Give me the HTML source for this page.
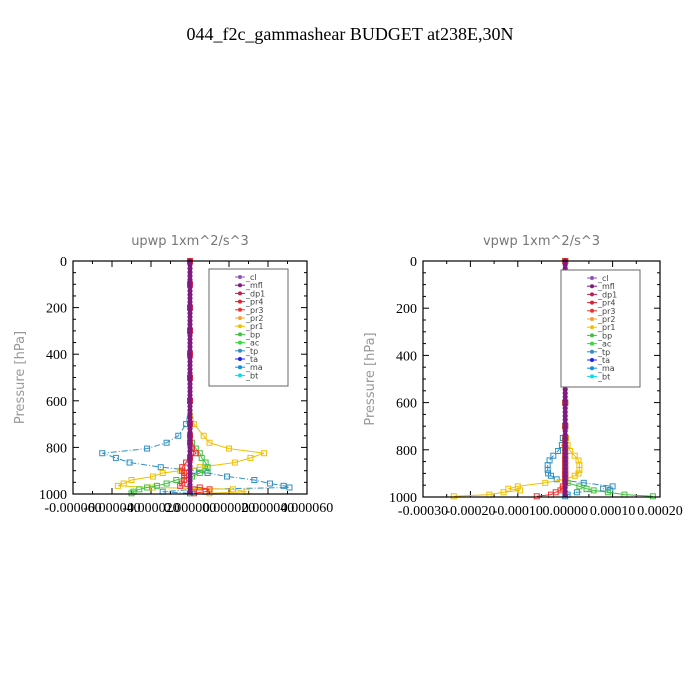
<!DOCTYPE html>
<html><head><meta charset="utf-8"><style>
body{margin:0;background:#fff}
svg{display:block}
text{font-family:"Liberation Serif",serif}
.sans{font-family:"DejaVu Sans","Liberation Sans",sans-serif}
</style></head><body>
<svg id="chart" width="700" height="700" viewBox="0 0 700 700" xmlns="http://www.w3.org/2000/svg">
<rect width="700" height="700" fill="#fff"/>
<text x="350" y="40" font-size="18" text-anchor="middle">044_f2c_gammashear  BUDGET at238E,30N</text>
<g id="p1"></g>
<g id="p2"></g>
</svg>
<script>
// shared pressure levels (hPa)
const levels = [0,100,200,300,400,500,600,700,750,780,805,825,845,865,885,900,910,925,940,955,965,972,980,990,997];
// left panel (units 1e-5)
const upTp  = [0,0,0,0,0,0,0,-0.2,-0.6,-1.2,-2.2,-4.5,-3.8,-3.1,-1.5,0.2,0.9,1.9,3.3,4.1,4.8,5.1,0.2,-1.4,0];
const upPr1 = [0,0,0,0,0,0,0,0.2,0.7,1.0,2.0,3.8,3.1,2.3,0.5,-0.5,-1.4,-1.9,-3.0,-3.4,-3.7,-1.9,2.2,2.9,1.0];
const upBp  = [0,0,0,0,0,0,0,0,0,0.1,0.3,0.5,0.6,0.8,0.9,0.8,0.5,0.1,-0.7,-1.2,-1.7,-2.2,-2.6,-2.9,-3.0];
const upPr3 = [0,0,0,0,0,0,0,0,0,0,0.1,0.3,0,-0.2,-0.4,-0.4,-0.3,-0.3,-0.3,-0.4,-0.5,0.5,1.0,0.8,0.2];
// right panel (units 1e-4)
const vpTp  = [0,0,0,0,0,0,0,0,-0.05,-0.07,-0.15,-0.25,-0.33,-0.37,-0.37,-0.36,-0.3,-0.18,0.39,1.0,0.8,0.95,0.25,0.05,0];
const vpPr1 = [0,0,0,0,0,0,0,0,0.02,0.05,0.1,0.2,0.28,0.3,0.3,0.28,0.2,0.0,-0.42,-1.0,-1.2,-0.95,-1.3,-1.6,-2.35];
const vpBp  = [0,0,0,0,0,0,0,0,0,0,0,0,0,0,0,0,0,0,0.05,0.3,0.45,0.6,0.9,1.25,1.85];
const vpPr3 = [0,0,0,0,0,0,0,0,0,0,0,0,0,0,0,0,0,0,0,-0.05,-0.05,-0.1,-0.2,-0.3,-0.6];
const upXTicks = ["-0.000060","-0.000040","-0.000020","0.000000","0.000020","0.000040","0.000060"];
const vpXTicks = ["-0.00030","-0.00020","-0.00010","0.00000","0.00010","0.00020"];
const yTicks = [0,200,400,600,800,1000];
const legendNames = ["_cl","_mfl","_dp1","_pr4","_pr3","_pr2","_pr1","_bp","_ac","_tp","_ta","_ma","_bt"];
const legendColors = ["#9050c0","#801a80","#c02050","#e02030","#f03030","#f8a030","#f0c000","#40c040","#30e030","#3090c0","#2020f0","#1090e0","#00e0f0"];

const NS="http://www.w3.org/2000/svg";
function mk(parent,tag,attrs){const e=document.createElementNS(NS,tag);for(const k in attrs)e.setAttribute(k,attrs[k]);parent.appendChild(e);return e;}

function panel(g,cfg){
  const {x0,x1,y0,y1,xmin,xmax,title,ticks,series,legend}=cfg;
  const X=v=>x0+(v-xmin)/(xmax-xmin)*(x1-x0);
  const Y=p=>y0+p/1000*(y1-y0);
  const t=mk(g,'text',{x:(x0+x1)/2,y:y0-16,'font-size':13,'text-anchor':'middle',fill:'#777',class:'sans'});
  t.textContent=title;
  
  
  const yl=mk(g,'text',{x:0,y:0,'font-size':13,'text-anchor':'middle',fill:'#999',class:'sans',transform:`translate(${x0-49},${(y0+y1)/2}) rotate(-90)`});
  yl.textContent='Pressure  [hPa]';
  
  
  // minor ticks
  for(let p=0;p<=1000;p+=50){
    const len=p%200===0?6:3;
    mk(g,'line',{x1:x0,x2:x0+len,y1:Y(p),y2:Y(p),stroke:'#000'});
    mk(g,'line',{x1:x1,x2:x1-len,y1:Y(p),y2:Y(p),stroke:'#000'});
  }
  yTicks.forEach(p=>{
    const tx=mk(g,'text',{x:x0-6,y:Y(p)+5,'font-size':14,'text-anchor':'end'});
    tx.textContent=p;
    
    
  });
  const n=ticks.length;
  for(let i=0;i<n;i++){
    const v=xmin+(xmax-xmin)*i/(n-1);
    const px=X(v);
    mk(g,'line',{x1:px,x2:px,y1:y1,y2:y1-6,stroke:'#000'});
    mk(g,'line',{x1:px,x2:px,y1:y0,y2:y0+6,stroke:'#000'});
    if(i<n-1){const m=X(v+(xmax-xmin)/(n-1)/2);mk(g,'line',{x1:m,x2:m,y1:y1,y2:y1-3,stroke:'#000'});mk(g,'line',{x1:m,x2:m,y1:y0,y2:y0+3,stroke:'#000'});}
    const tx=mk(g,'text',{x:px,y:y1+18,'font-size':14,'text-anchor':'middle'});
    tx.textContent=ticks[i];
    
    
  }
  // series
  series.forEach(s=>{
    const pts=s.vals.map((v,i)=>X(v*s.scale).toFixed(1)+','+Y(levels[i]).toFixed(1)).join(' ');
    const pl=mk(g,'polyline',{points:pts,fill:'none',stroke:s.color,'stroke-width':1,'stroke-dasharray':s.dash||''});
    
    
    s.vals.forEach((v,i)=>{
      const c=mk(g,'rect',{x:X(v*s.scale)-2.5,y:Y(levels[i])-2.5,width:5,height:5,fill:'none',stroke:s.color,'stroke-width':1});
      
      
    });
  });
  // thick zero-line cluster
  const zl=mk(g,'line',{x1:X(0),x2:X(0),y1:y0,y2:y1,stroke:'#c02050','stroke-width':4});
  
  
  mk(g,'line',{x1:X(0),x2:X(0),y1:y0,y2:y1,stroke:'#801a80','stroke-width':2});
  for(let p=0;p<=1000;p+=16){mk(g,'circle',{cx:X(0),cy:Y(p),r:2.6,fill:'#801a80'});}
  mk(g,'rect',{x:x0,y:y0,width:x1-x0,height:y1-y0,fill:'none',stroke:'#000','stroke-width':1.2});
  // legend
  const lg=mk(g,'g',{});
  
  
  mk(lg,'rect',{x:legend.x,y:legend.y,width:79,height:117,fill:'#fff',stroke:'#666'});
  legendNames.forEach((nm,i)=>{
    const ly=legend.y+8+i*8.2;
    const e=mk(lg,'g',{});
    
    
    mk(e,'line',{x1:legend.x+26,x2:legend.x+36,y1:ly,y2:ly,stroke:legendColors[i]});
    mk(e,'circle',{cx:legend.x+31,cy:ly,r:2,fill:legendColors[i]});
    const tx=mk(e,'text',{x:legend.x+37,y:ly+3,'font-size':8,fill:'#444',class:'sans'});
    tx.textContent=nm;
  });
}
panel(document.getElementById('p1'),{x0:73,x1:307,y0:261,y1:494,xmin:-6,xmax:6,title:'upwp   1xm^2/s^3',ticks:upXTicks,legend:{x:209,y:269},
  series:[{name:'tp',vals:upTp,scale:1,color:'#3090c0',dash:'6,2,1,2'},{name:'pr1',vals:upPr1,scale:1,color:'#f0c000'},{name:'bp',vals:upBp,scale:1,color:'#40c040'},{name:'pr3',vals:upPr3,scale:1,color:'#f03030'}]});
panel(document.getElementById('p2'),{x0:423,x1:660,y0:261,y1:497,xmin:-3,xmax:2,title:'vpwp   1xm^2/s^3',ticks:vpXTicks,legend:{x:561,y:270},
  series:[{name:'tp',vals:vpTp,scale:1,color:'#3090c0',dash:'6,2,1,2'},{name:'pr1',vals:vpPr1,scale:1,color:'#f0c000'},{name:'bp',vals:vpBp,scale:1,color:'#40c040'},{name:'pr3',vals:vpPr3,scale:1,color:'#f03030'}]});
</script>
</body></html>
